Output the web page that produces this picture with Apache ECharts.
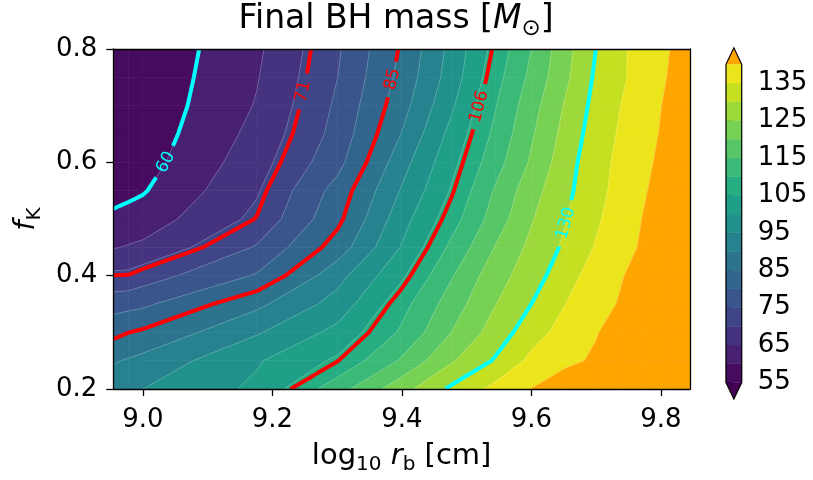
<!DOCTYPE html>
<html>
<head>
<meta charset="utf-8">
<script src="https://cdn.jsdelivr.net/npm/echarts@6/dist/echarts.min.js"></script>
<style>
  html, body { margin: 0; padding: 0; background: #ffffff; }
  #chart { width: 813px; height: 480px; }
</style>
</head>
<body>
<div id="chart"></div>
<script>
// Break-up radius grid (cm) and Keplerian fraction grid
const rbCm = [9.0e8, 9.5e8, 1.0e9, 1.5e9, 2.0e9, 2.5e9, 3.0e9, 3.5e9, 4.0e9, 4.5e9, 5.0e9, 5.5e9, 6.0e9, 6.5e9, 7.0e9];
const fK = [0.20, 0.25, 0.30, 0.35, 0.40, 0.45, 0.50, 0.55, 0.60, 0.65, 0.70, 0.75, 0.80];

// Final BH mass [Msun], one row per f_K value, columns follow rbCm
const massF020 = [93.0, 94.0, 95.0, 101.0, 113.0, 123.0, 131.0, 136.5, 140.2, 142.9, 145.0, 146.8, 148.4, 149.8, 151.0];
const massF025 = [89.5, 90.5, 91.5, 99.5, 105.9, 115.5, 124.5, 130.5, 136.5, 139.0, 140.6, 142.5, 144.6, 146.7, 148.6];
const massF030 = [83.6, 84.95, 85.8, 94.5, 101.5, 110.6, 120.1, 127.2, 133.0, 137.0, 139.7, 142.0, 144.2, 146.1, 148.0];
const massF035 = [77.9, 78.4, 79.0, 88.8, 97.0, 108.0, 117.5, 124.8, 130.2, 135.0, 138.0, 140.6, 143.0, 145.0, 147.0];
const massF040 = [71.1, 71.2, 72.6, 80.5, 93.3, 103.9, 114.6, 123.0, 127.7, 133.3, 136.9, 139.8, 142.3, 144.5, 146.6];
const massF045 = [64.7, 65.4, 66.0, 75.5, 87.3, 100.1, 111.2, 120.2, 126.5, 130.9, 135.3, 138.3, 141.1, 143.6, 145.8];
const massF050 = [60.8, 61.5, 62.3, 71.2, 83.8, 97.8, 107.9, 117.3, 124.8, 129.8, 134.2, 137.6, 140.6, 143.0, 145.3];
const massF055 = [58.6, 59.0, 59.6, 69.5, 82.0, 95.2, 105.5, 115.5, 123.3, 128.8, 133.4, 136.9, 139.9, 142.2, 144.5];
const massF060 = [57.0, 57.5, 58.0, 67.9, 78.4, 92.8, 103.6, 112.9, 121.0, 128.0, 133.0, 136.4, 139.3, 141.7, 144.0];
const massF065 = [56.3, 56.7, 57.1, 66.5, 76.7, 89.9, 101.6, 111.1, 119.6, 126.8, 132.3, 135.8, 138.7, 141.2, 143.6];
const massF070 = [55.9, 56.2, 56.55, 65.35, 75.9, 87.8, 99.3, 109.7, 118.3, 125.6, 131.5, 135.2, 138.2, 140.9, 143.3];
const massF075 = [55.5, 55.8, 56.2, 64.7, 75.0, 86.3, 97.4, 108.1, 116.6, 124.0, 130.7, 134.4, 137.5, 140.3, 142.6];
const massF080 = [55.3, 55.6, 56.0, 64.1, 74.4, 85.4, 96.6, 106.7, 115.3, 123.4, 129.9, 134.4, 137.3, 139.9, 142.2];

const massRows = [massF020, massF025, massF030, massF035, massF040, massF045, massF050,
                  massF055, massF060, massF065, massF070, massF075, massF080];

// Filled levels, highlighted iso-mass lines and tick values
const fillLevels = [55, 60, 65, 70, 75, 80, 85, 90, 95, 100, 105, 110, 115, 120, 125, 130, 135, 140];
const lineLevels = [60, 71, 85, 106, 130];
const cbarTicks = [55, 65, 75, 85, 95, 105, 115, 125, 135];
const xTicks = [9.0, 9.2, 9.4, 9.6, 9.8];
const yTicks = [0.2, 0.4, 0.6, 0.8];

// Styling
const bandColors = ['#460b5e', '#482071', '#46337f', '#404588', '#39558c', '#32658e', '#2c738e', '#26828e', '#21918c',
                    '#1f9f88', '#26ad81', '#3aba76', '#56c667', '#77d153', '#9dd93b', '#c5e021', '#ece51b'];
const underColor = '#440154';
const overColor = '#ffa500';
const lineColors = { 60: '#00ffff', 71: '#ff0000', 85: '#ff0000', 106: '#ff0000', 130: '#00ffff' };
const labelAtF = { 60: 0.600, 71: 0.724, 85: 0.746, 106: 0.698, 130: 0.492 };
const FONT = 'DejaVu Sans';

const X = rbCm.map(v => Math.log10(v));

// ---- marching squares on the (log r_b, f_K) grid ----
function node(i, j) { return { x: X[i], y: fK[j], z: massRows[j][i] }; }
const cells = [];
for (let j = 0; j < fK.length - 1; j++) {
  for (let i = 0; i < X.length - 1; i++) {
    const q = [node(i, j), node(i + 1, j), node(i + 1, j + 1), node(i, j + 1)];
    cells.push({ q, c: (q[0].z + q[1].z + q[2].z + q[3].z) / 4 });
  }
}

function clipAgainst(poly, level, keepAbove) {
  const out = [];
  for (let i = 0; i < poly.length; i++) {
    const a = poly[i], b = poly[(i + 1) % poly.length];
    const ina = keepAbove ? a.z >= level : a.z <= level;
    const inb = keepAbove ? b.z >= level : b.z <= level;
    if (ina) out.push(a);
    if (ina !== inb) {
      const t = (level - a.z) / (b.z - a.z);
      out.push({ x: a.x + t * (b.x - a.x), y: a.y + t * (b.y - a.y), z: level });
    }
  }
  return out;
}

// filled bands, one polygon per cell and band
const bandEdges = [-Infinity].concat(fillLevels, [Infinity]);
const bandFill = [underColor].concat(bandColors, [overColor]);
const fillPolys = [];
bandFill.forEach((color, k) => {
  const lo = bandEdges[k], hi = bandEdges[k + 1];
  cells.forEach(({ q }) => {
    const zs = q.map(p => p.z);
    if (Math.max(...zs) < lo || Math.min(...zs) > hi) return;
    let poly = q;
    if (lo > -Infinity) poly = clipAgainst(poly, lo, true);
    if (poly.length >= 3 && hi < Infinity) poly = clipAgainst(poly, hi, false);
    if (poly.length >= 3) fillPolys.push({ color, pts: poly });
  });
});

// iso-lines: straight segment per cell, chained into polylines
function less(a, b) { return a.x < b.x || (a.x === b.x && a.y < b.y); }
function contourLines(L) {
  const pts = new Map();
  const segs = [];
  cells.forEach(({ q, c }) => {
    const cross = [];
    for (let e = 0; e < 4; e++) {
      let a = q[e], b = q[(e + 1) % 4];
      if ((a.z >= L) === (b.z >= L)) { cross.push(null); continue; }
      if (less(b, a)) { const t = a; a = b; b = t; }
      const t = (L - a.z) / (b.z - a.z);
      const p = { x: a.x + t * (b.x - a.x), y: a.y + t * (b.y - a.y) };
      const key = p.x.toFixed(9) + ',' + p.y.toFixed(9);
      pts.set(key, p);
      cross.push(key);
    }
    const hit = cross.map((k, e) => k ? e : -1).filter(e => e >= 0);
    if (hit.length === 2) {
      segs.push([cross[hit[0]], cross[hit[1]]]);
    } else if (hit.length === 4) {
      const s0 = q[0].z >= L, sc = c >= L;
      if (s0 === sc) { segs.push([cross[0], cross[1]], [cross[2], cross[3]]); }
      else { segs.push([cross[3], cross[0]], [cross[1], cross[2]]); }
    }
  });
  const adj = new Map();
  segs.forEach((s, i) => s.forEach(k => { if (!adj.has(k)) adj.set(k, []); adj.get(k).push(i); }));
  const used = new Array(segs.length).fill(false);
  const lines = [];
  const starts = [...adj.keys()].sort((a, b) => adj.get(a).length - adj.get(b).length);
  starts.forEach(sk => {
    adj.get(sk).forEach(si => {
      if (used[si]) return;
      const line = [pts.get(sk)];
      let cur = sk, idx = si;
      while (idx !== undefined) {
        used[idx] = true;
        const s = segs[idx];
        const nxt = s[0] === cur ? s[1] : s[0];
        line.push(pts.get(nxt));
        cur = nxt;
        idx = adj.get(cur).find(j => !used[j]);
      }
      lines.push(line);
    });
  });
  return lines;
}

const seamLines = [];
fillLevels.forEach(L => contourLines(L).forEach(l => seamLines.push(l)));
const isoLines = lineLevels.map(L => ({ level: L, lines: contourLines(L) }));

function densify(pts, step) {
  const out = [pts[0]];
  for (let i = 1; i < pts.length; i++) {
    const a = pts[i - 1], b = pts[i];
    const n = Math.max(1, Math.ceil(Math.hypot(b[0] - a[0], b[1] - a[1]) / step));
    for (let k = 1; k <= n; k++) out.push([a[0] + (b[0] - a[0]) * k / n, a[1] + (b[1] - a[1]) * k / n]);
  }
  return out;
}

function renderContours(params, api) {
  const children = [];
  const px = p => api.coord([p.x, p.y]);
  fillPolys.forEach(fp => {
    children.push({ type: 'polygon', silent: true, shape: { points: fp.pts.map(px) },
      style: { fill: fp.color, stroke: fp.color, lineWidth: 0.6 } });
  });
  seamLines.forEach(line => {
    children.push({ type: 'polyline', silent: true, shape: { points: line.map(px) },
      style: { fill: 'none', stroke: 'rgba(255,255,255,0.25)', lineWidth: 0.8 } });
  });
  isoLines.forEach(({ level, lines }) => {
    const color = lineColors[level];
    const labelY = api.coord([X[0], labelAtF[level]])[1];
    const dense = lines.map(l => densify(l.map(px), 1));
    // label anchor: where the line meets the chosen f_K
    let anchor = null;
    dense.forEach((d, li) => {
      if (anchor) return;
      for (let i = 1; i < d.length; i++) {
        if ((d[i - 1][1] - labelY) * (d[i][1] - labelY) <= 0) { anchor = { li, i }; break; }
      }
    });
    const text = String(level);
    const radius = text.length * 10.8 / 2 + 7;
    let center = null, ang = 0;
    if (anchor) {
      const d = dense[anchor.li];
      center = d[anchor.i];
      const a = d[Math.max(0, anchor.i - 6)], b = d[Math.min(d.length - 1, anchor.i + 6)];
      ang = Math.atan2(-(b[1] - a[1]), b[0] - a[0]);
      if (ang > Math.PI / 2) ang -= Math.PI;
      if (ang < -Math.PI / 2) ang += Math.PI;
    }
    dense.forEach(d => {
      let run = [];
      const flush = () => {
        if (run.length > 1) children.push({ type: 'polyline', silent: true, shape: { points: run },
          style: { fill: 'none', stroke: color, lineWidth: 4, lineCap: 'butt', lineJoin: 'round' } });
        run = [];
      };
      d.forEach(p => {
        if (center && Math.hypot(p[0] - center[0], p[1] - center[1]) < radius) flush();
        else run.push(p);
      });
      flush();
    });
    if (center) {
      children.push({ type: 'text', silent: true, x: center[0], y: center[1], rotation: ang,
        style: { text, fill: color, font: '17px "' + FONT + '"', align: 'center', verticalAlign: 'middle' } });
    }
  });
  return { type: 'group', children };
}

// colour-bar pieces
const cbarBands = fillLevels.slice(0, -1).map((lo, k) => [lo, fillLevels[k + 1], k]);
function renderCbarBand(params, api) {
  const lo = api.value(0), hi = api.value(1), k = api.value(2);
  const a = api.coord([0, hi]), b = api.coord([1, lo]);
  return { type: 'rect', silent: true, shape: { x: a[0], y: a[1], width: b[0] - a[0], height: b[1] - a[1] },
    style: { fill: bandColors[k], stroke: bandColors[k], lineWidth: 0.5 } };
}
function renderCbarEnds(params, api) {
  const lo = fillLevels[0], hi = fillLevels[fillLevels.length - 1];
  const tl = api.coord([0, hi]), tr = api.coord([1, hi]);
  const bl = api.coord([0, lo]), br = api.coord([1, lo]);
  const ext = 16.5;
  const topTip = [(tl[0] + tr[0]) / 2, tl[1] - ext];
  const botTip = [(bl[0] + br[0]) / 2, bl[1] + ext];
  return { type: 'group', children: [
    { type: 'polygon', silent: true, shape: { points: [tl, tr, topTip] }, style: { fill: overColor } },
    { type: 'polygon', silent: true, shape: { points: [bl, br, botTip] }, style: { fill: underColor } },
    { type: 'polygon', silent: true, shape: { points: [botTip, bl, tl, topTip, tr, br] },
      style: { fill: 'none', stroke: '#000', lineWidth: 1.2, lineJoin: 'miter' } }
  ] };
}

const tickFont = { color: '#000', fontFamily: FONT, fontSize: 26 };
const nameRich = {
  n: { fontFamily: FONT, fontSize: 29, color: '#000', lineHeight: 34 },
  i: { fontFamily: FONT, fontSize: 29, color: '#000', fontStyle: 'italic', lineHeight: 34 },
  s: { fontFamily: FONT, fontSize: 20, color: '#000', lineHeight: 20, padding: [17, 0, 0, 0] }
};

const option = {
  animation: false,
  backgroundColor: '#ffffff',
  graphic: [{
    type: 'text', x: 396, y: 0, silent: true,
    style: {
      text: '{n|Final BH mass [}{i|M}{s|⊙}{n|]}',
      align: 'center', verticalAlign: 'top',
      rich: {
        n: { fontFamily: FONT, fontSize: 33, fill: '#000', lineHeight: 39 },
        i: { fontFamily: FONT, fontSize: 33, fill: '#000', fontStyle: 'italic', lineHeight: 39 },
        s: { fontFamily: FONT, fontSize: 23, fill: '#000', lineHeight: 23, padding: [19, 0, 0, 0] }
      }
    }
  }],
  grid: [
    { left: 111, top: 49, width: 579, height: 349.3, containLabel: false },
    { left: 726, top: 64.3, width: 15.7, height: 318.2, containLabel: false }
  ],
  xAxis: [
    { type: 'value', gridIndex: 0, min: X[0], max: X[X.length - 1], position: 'bottom', z: 10,
      axisLine: { show: true, onZero: false, lineStyle: { color: '#000', width: 1.3 } },
      axisTick: { show: true, customValues: xTicks, length: 7, lineStyle: { color: '#000', width: 1.3 } },
      axisLabel: { customValues: xTicks, formatter: v => v.toFixed(1), margin: 18, ...tickFont },
      splitLine: { show: false },
      name: '{n|log}{s|10}{n| }{i|r}{s|b}{n| [cm]}', nameLocation: 'middle', nameGap: 45,
      nameTextStyle: { rich: nameRich } },
    { type: 'value', gridIndex: 0, min: X[0], max: X[X.length - 1], position: 'top', z: 10,
      axisLine: { show: true, onZero: false, lineStyle: { color: '#000', width: 1.3 } },
      axisTick: { show: false }, axisLabel: { show: false }, splitLine: { show: false } },
    { type: 'value', gridIndex: 1, min: 0, max: 1, show: false }
  ],
  yAxis: [
    { type: 'value', gridIndex: 0, min: 0.2, max: 0.8, interval: 0.2, position: 'left', z: 10,
      axisLine: { show: true, onZero: false, lineStyle: { color: '#000', width: 1.3 } },
      axisTick: { show: true, customValues: yTicks, length: 7, lineStyle: { color: '#000', width: 1.3 } },
      axisLabel: { customValues: yTicks, formatter: v => v.toFixed(1), margin: 16, ...tickFont },
      splitLine: { show: false },
      name: '{i|f}{s|K}', nameLocation: 'middle', nameGap: 62, nameRotate: 90,
      nameTextStyle: { rich: nameRich } },
    { type: 'value', gridIndex: 0, min: 0.2, max: 0.8, position: 'right', z: 10,
      axisLine: { show: true, onZero: false, lineStyle: { color: '#000', width: 1.3 } },
      axisTick: { show: false }, axisLabel: { show: false }, splitLine: { show: false } },
    { type: 'value', gridIndex: 1, min: fillLevels[0], max: fillLevels[fillLevels.length - 1], position: 'right',
      axisLine: { show: false },
      axisTick: { show: true, customValues: cbarTicks, length: 7, lineStyle: { color: '#000', width: 1.3 } },
      axisLabel: { customValues: cbarTicks, margin: 16, ...tickFont },
      splitLine: { show: false } }
  ],
  series: [
    { type: 'custom', xAxisIndex: 0, yAxisIndex: 0, clip: true, silent: true,
      data: [[X[0], fK[0]]], renderItem: renderContours, z: 2 },
    { type: 'custom', xAxisIndex: 2, yAxisIndex: 2, silent: true,
      data: cbarBands, renderItem: renderCbarBand, z: 2 },
    { type: 'custom', xAxisIndex: 2, yAxisIndex: 2, silent: true,
      data: [[0, fillLevels[0]]], renderItem: renderCbarEnds, z: 3 }
  ]
};

const chart = echarts.init(document.getElementById('chart'), null, { renderer: 'canvas' });
chart.setOption(option);
</script>
</body>
</html>
